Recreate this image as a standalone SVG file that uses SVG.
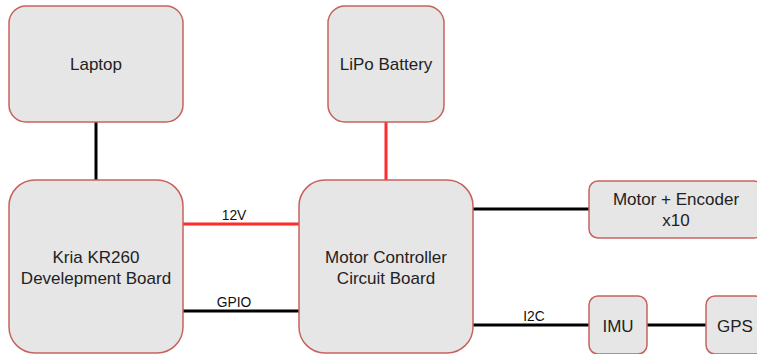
<svg xmlns="http://www.w3.org/2000/svg" width="757" height="354" viewBox="0 0 757 354">
<style>
.box{fill:#e6e6e6;stroke:#c8625e;stroke-width:1.5}
.t{font-family:"Liberation Sans",Arial,sans-serif;font-size:17px;fill:#222;text-anchor:middle}
.l{font-family:"Liberation Sans",Arial,sans-serif;font-size:13.8px;fill:#111;text-anchor:middle}
.k{stroke:#000;stroke-width:3;fill:none}
.r{stroke:#ff2a2a;stroke-width:3;fill:none}
</style>
<rect width="757" height="354" fill="#fff"/>
<g id="connectors">
<line class="k" x1="96" y1="122" x2="96" y2="180"/>
<line class="r" x1="386" y1="122" x2="386" y2="180"/>
<line class="r" x1="183" y1="224" x2="299" y2="224"/>
<text class="l" x="234" y="220">12V</text>
<line class="k" x1="183" y1="311" x2="299" y2="311"/>
<text class="l" x="234" y="307">GPIO</text>
<line class="k" x1="473" y1="209" x2="589" y2="209"/>
<line class="k" x1="473" y1="325" x2="589" y2="325"/>
<text class="l" x="534" y="321">I2C</text>
<line class="k" x1="647" y1="325" x2="706" y2="325"/>
</g>
<g id="laptop">
<rect class="box" x="9" y="6" width="174" height="116" rx="17"/>
<text class="t" x="96" y="70">Laptop</text>
</g>
<g id="lipo">
<rect class="box" x="328" y="6" width="116" height="116" rx="17"/>
<text class="t" x="386" y="70">LiPo Battery</text>
</g>
<g id="kria">
<rect class="box" x="9" y="180" width="174" height="173" rx="26"/>
<text class="t" x="96" y="263">Kria KR260</text>
<text class="t" x="96" y="284">Develepment Board</text>
</g>
<g id="mcb">
<rect class="box" x="299" y="180" width="174" height="173" rx="26"/>
<text class="t" x="386" y="263">Motor Controller</text>
<text class="t" x="386" y="284">Circuit Board</text>
</g>
<g id="motor">
<rect class="box" x="589" y="181" width="174" height="57" rx="9"/>
<text class="t" x="676" y="205">Motor + Encoder</text>
<text class="t" x="676" y="226">x10</text>
</g>
<g id="imu">
<rect class="box" x="589" y="296" width="58" height="58" rx="9"/>
<text class="t" x="618" y="332">IMU</text>
</g>
<g id="gps">
<rect class="box" x="706" y="296" width="58" height="58" rx="9"/>
<text class="t" x="735" y="332">GPS</text>
</g>
</svg>
